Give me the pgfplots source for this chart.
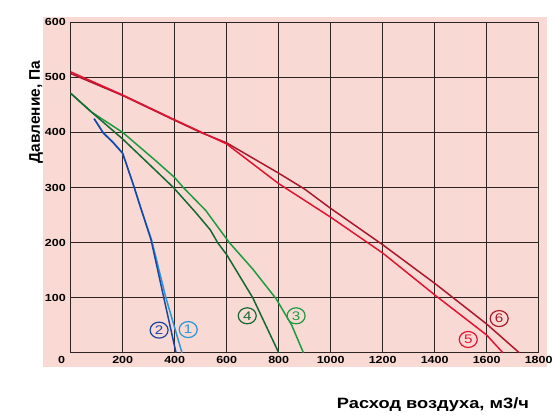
\documentclass[border=0pt]{standalone}
\usepackage{fontspec}
\setmainfont{Liberation Sans}[FakeStretch=1.22]
\newfontfamily\ylabfont{Liberation Sans}
\usepackage{pgfplots}
\pgfplotsset{compat=1.18}

\definecolor{bgpink}{RGB}{249,217,211}
\definecolor{gridc}{RGB}{45,35,35}
\definecolor{cblueL}{RGB}{40,150,215}
\definecolor{cblueD}{RGB}{25,70,165}
\definecolor{cgreenL}{RGB}{30,155,65}
\definecolor{cgreenD}{RGB}{20,105,50}
\definecolor{credL}{RGB}{225,20,50}
\definecolor{credD}{RGB}{170,25,45}

\tikzset{numlab/.style={ellipse, draw=#1, text=#1, line width=1.2bp,
  minimum width=18bp, minimum height=16bp, inner sep=0pt,
  font=\fontsize{12.5}{12.5}\selectfont}}
\usetikzlibrary{shapes.geometric}

\begin{document}
\begin{tikzpicture}
\begin{axis}[
  anchor=origin, at={(0,0)},
  scale only axis,
  width=468bp, height=330.4bp,
  xmin=0, xmax=1800, ymin=0, ymax=600,
  xtick={200,400,...,1800},
  ytick={100,200,...,600},
  grid=major,
  major grid style={gridc, line width=0.8bp},
  axis line style={gridc, line width=0.8bp},
  major tick length=0pt,
  set layers, clip=false,
  ticklabel style={font=\bfseries\fontsize{10.3}{11}\selectfont, inner sep=0pt},
  /pgf/number format/assume math mode=true,
  /pgf/number format/1000 sep={},
  xticklabel style={yshift=-3.3bp},
  yticklabel style={xshift=-4.7bp},
  xlabel={Расход воздуха, м3/ч},
  ylabel={Давление, Па},
  xlabel style={at={(axis description cs:0.774,-0.158)}, anchor=center,
    font=\bfseries\fontsize{15}{16}\selectfont},
  ylabel style={at={(axis description cs:-0.074,0.729)}, anchor=center, rotate=0,
    font=\ylabfont\bfseries\fontsize{15.5}{16}\selectfont},
]
\begin{pgfonlayer}{axis background}
  \fill[bgpink] (axis cs:-106,-26) rectangle (axis cs:1832,610);
\end{pgfonlayer}

% 1
\addplot[cblueL, line width=1.5bp] coordinates {
(90,425) (125,400) (164,382) (200,362) (241,305) (270,262) (311,205) (366,100) (428,0)};
% 2
\addplot[cblueD, line width=1.5bp] coordinates {
(90,425) (125,399) (164,381) (200,362) (241,305) (270,262) (309,205) (358,100) (405,0)};
% 3
\addplot[cgreenL, line width=1.5bp] coordinates {
(0,471) (80,437) (200,400) (331,347) (400,318) (433,300) (520,258) (574,223) (610,200) (700,152) (790,98) (850,50) (895,0)};
% 4
\addplot[cgreenD, line width=1.5bp] coordinates {
(0,471) (80,437) (200,388) (300,343) (395,300) (480,255) (537,223) (565,200) (600,178) (700,100) (800,0)};
% 6
\addplot[credD, line width=1.5bp] coordinates {
(0,507) (200,467) (400,422) (500,400) (600,381) (800,326) (900,297) (1000,262) (1200,196) (1400,126) (1600,52) (1725,0)};
% 5
\addplot[credL, line width=1.5bp] coordinates {
(0,510) (200,468) (400,423) (500,401) (600,379) (800,307) (1000,246) (1200,181) (1400,105) (1600,32) (1662,0)};

\node[anchor=north east, inner sep=0pt, font=\bfseries\fontsize{10.3}{11}\selectfont,
  xshift=-5.5bp, yshift=-3.3bp] at (axis cs:0,0) {0};

\node[numlab=cblueD] at (axis cs:340,41) {2};
\node[numlab=cblueL] at (axis cs:452,42) {1};
\node[numlab=cgreenD] at (axis cs:679,67) {4};
\node[numlab=cgreenL] at (axis cs:867,67) {3};
\node[numlab=credL] at (axis cs:1529,24) {5};
\node[numlab=credD] at (axis cs:1648,62) {6};
\end{axis}
\pgfresetboundingbox
\path (-70.7bp,-67.3bp) rectangle (484.3bp,352.7bp);
\end{tikzpicture}
\end{document}
